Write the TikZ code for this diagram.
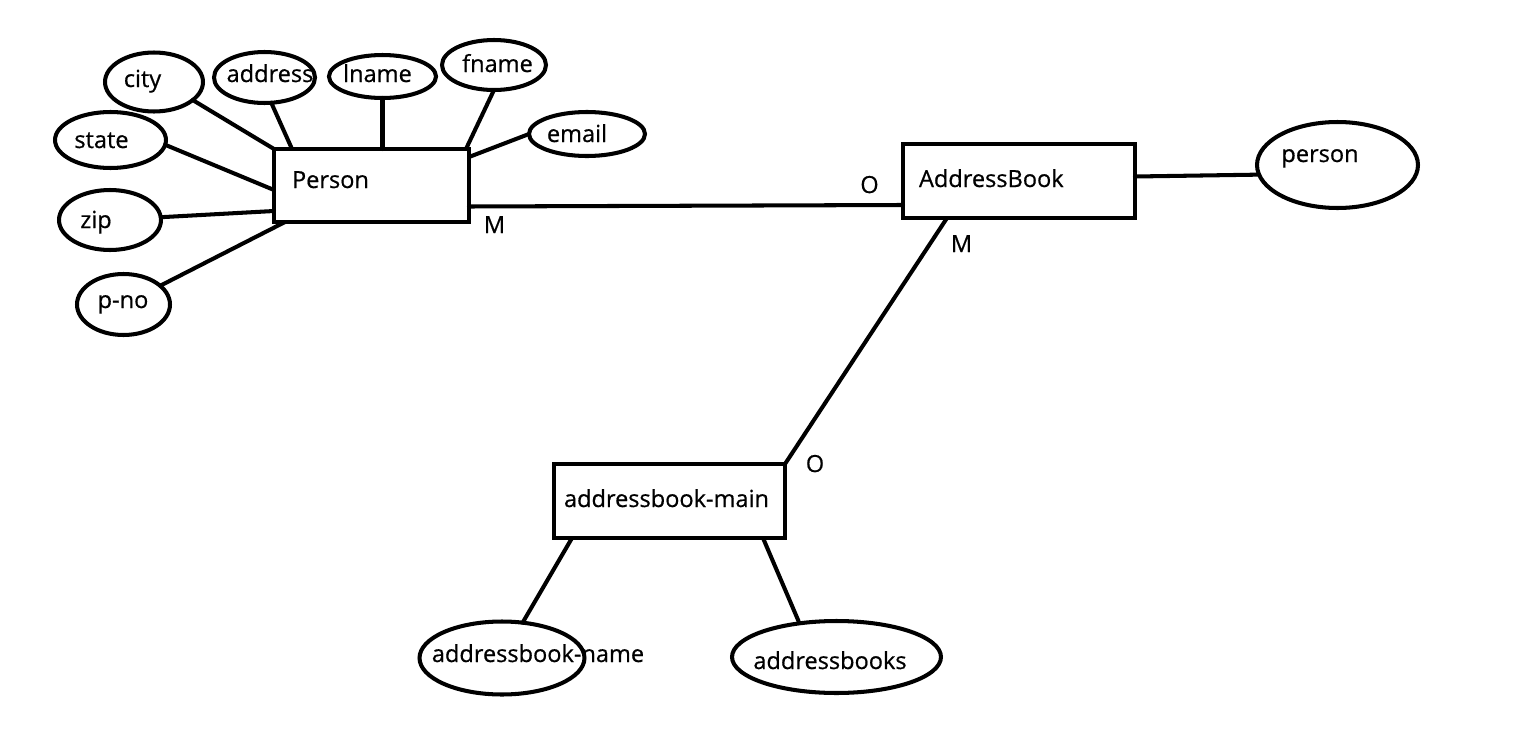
\documentclass[tikz,border=0pt]{standalone}
\usepackage{fontspec}
\setmainfont{Open Sans}[FakeBold=0.6]
\usetikzlibrary{shapes.geometric}
\begin{document}
\begin{tikzpicture}[x=0.02cm,y=-0.02cm, line width=2.3pt,
  att/.style={ellipse,draw,inner sep=0pt,outer sep=0pt},
  ent/.style={rectangle,draw,inner sep=0pt,outer sep=0pt},
  txt/.style={inner sep=0pt,anchor=base,font=\fontsize{13.4pt}{16pt}\selectfont},
  txtw/.style={inner sep=0pt,anchor=base west,font=\fontsize{13.4pt}{16pt}\selectfont},
  link/.style={line cap=round}]
\useasboundingbox (0,0) rectangle (1526,734);
% texts
\node[txt] (tcity) at (142.5,87) {city};
\node[txt] (taddress) at (270,82) {address};
\node[txt] (tlname) at (377.5,82) {lname};
\node[txt] (tfname) at (497.5,72) {fname};
\node[txt] (temail) at (577,142) {email};
\node[txt] (tstate) at (101.5,148) {state};
\node[txt] (tzip) at (96,228) {zip};
\node[txt] (tpno) at (123,308) {p-no};
\node[txt] (tpersonatt) at (1320,162) {person};
\node[txt] (tabname) at (538,662) {addressbook-name};
\node[txt] (tabooks) at (830,669) {addressbooks};
\node[txtw] (tP) at (290,188) {Person};
\node[txtw] (tAB) at (917,187) {AddressBook};
\node[txtw] (tmain) at (562,507) {addressbook-main};
\node[txt] (m1) at (494.5,233) {M};
\node[txt] (o1) at (869.5,193) {O};
\node[txt] (m2) at (961.5,252) {M};
\node[txt] (o2) at (815,472) {O};
% attributes
\node[att,minimum width=1.96cm,minimum height=1.18cm] (city) at (154,82) {};
\node[att,minimum width=2.02cm,minimum height=1.02cm] (address) at (264.5,77.5) {};
\node[att,minimum width=2.14cm,minimum height=0.86cm] (lname) at (382.5,76.5) {};
\node[att,minimum width=2.08cm,minimum height=1.0cm] (fname) at (494,65) {};
\node[att,minimum width=2.32cm,minimum height=0.88cm] (email) at (587,134) {};
\node[att,minimum width=2.22cm,minimum height=1.12cm] (state) at (110.5,140) {};
\node[att,minimum width=2.04cm,minimum height=1.2cm] (zip) at (110,220) {};
\node[att,minimum width=1.86cm,minimum height=1.22cm] (pno) at (123.5,304.5) {};
\node[att,minimum width=3.22cm,minimum height=1.72cm] (personatt) at (1337.5,165) {};
\node[att,minimum width=3.3cm,minimum height=1.46cm] (abname) at (502,658) {};
\node[att,minimum width=4.18cm,minimum height=1.44cm] (abooks) at (836.5,657) {};
% entities
\node[ent,minimum width=3.9cm,minimum height=1.46cm] (P) at (371.5,185.5) {};
\node[ent,minimum width=4.64cm,minimum height=1.48cm] (AB) at (1019,181) {};
\node[ent,minimum width=4.62cm,minimum height=1.48cm] (main) at (669.5,501) {};
% connectors
\draw[link] (city.-25) -- (P.north west);
\draw[link] (address.-75) -- ([xshift=0.36cm]P.north west);
\draw[link] (lname.south) -- (lname.south |- P.north);
\draw[link] (fname.south) -- ([xshift=-0.06cm]P.north east);
\draw[link] (email.west) -- ([yshift=-0.16cm]P.north east);
\draw[link] (state.-5) -- ([yshift=-0.09cm]P.west);
\draw[link] (zip) -- ([yshift=-0.51cm]P.west);
\draw[link] (pno) -- ([xshift=0.22cm]P.south west);
\draw[link] ([yshift=-0.42cm]P.east) -- ([yshift=-0.48cm]AB.west);
\draw[link] ([yshift=0.09cm]AB.east) -- (personatt.187);
\draw[link] ([xshift=-1.44cm]AB.south) -- (main.north east);
\draw[link] ([xshift=0.36cm]main.south west) -- (abname);
\draw[link] ([xshift=-0.44cm]main.south east) -- ([xshift=-0.76cm]abooks.north);
\end{tikzpicture}
\end{document}
